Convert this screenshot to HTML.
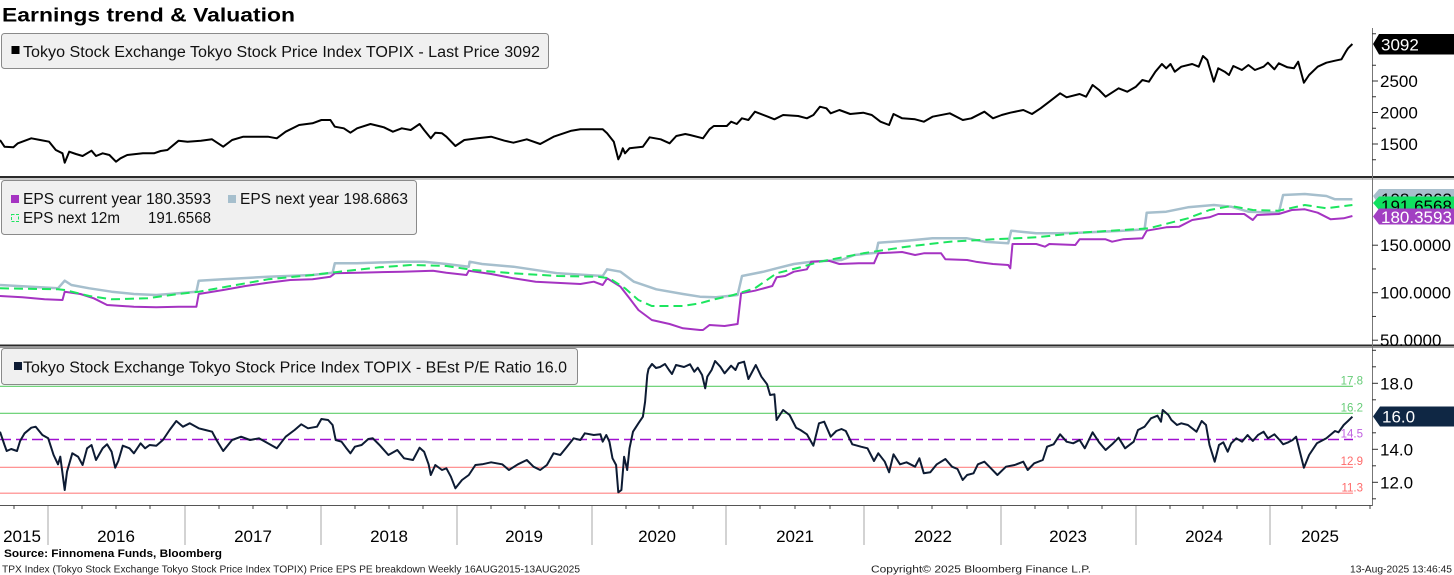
<!DOCTYPE html>
<html><head><meta charset="utf-8"><style>html,body{margin:0;padding:0;background:#fff;}svg{display:block}</style></head>
<body>
<svg width="1454" height="575" viewBox="0 0 1454 575" xmlns="http://www.w3.org/2000/svg" font-family="'Liberation Sans', 'DejaVu Sans', sans-serif">
<rect width="1454" height="575" fill="#fff"/>
<!-- title -->
<text x="2" y="21.5" font-size="19" font-weight="bold" fill="#000" textLength="293" lengthAdjust="spacingAndGlyphs">Earnings trend &amp; Valuation</text>

<!-- panel separators -->
<rect x="0" y="176" width="1454" height="2" fill="#2a2a2a"/>
<rect x="0" y="178.5" width="1454" height="1" fill="#9a9a9a"/>
<rect x="0" y="344.5" width="1454" height="2" fill="#2a2a2a"/>
<rect x="0" y="347" width="1454" height="1" fill="#9a9a9a"/>

<!-- right axis line -->
<line x1="1372.5" y1="28" x2="1372.5" y2="506" stroke="#777" stroke-width="1"/>
<g stroke="#333" stroke-width="1">
<!-- panel1 ticks -->
<line x1="1372" y1="144" x2="1378" y2="144"/><line x1="1372" y1="112.5" x2="1378" y2="112.5"/><line x1="1372" y1="81" x2="1378" y2="81"/>
<line x1="1372" y1="159.75" x2="1376" y2="159.75"/><line x1="1372" y1="128.25" x2="1376" y2="128.25"/><line x1="1372" y1="96.75" x2="1376" y2="96.75"/><line x1="1372" y1="65.25" x2="1376" y2="65.25"/><line x1="1372" y1="33.75" x2="1376" y2="33.75"/>
<!-- panel2 ticks -->
<line x1="1372" y1="245.2" x2="1378" y2="245.2"/><line x1="1372" y1="292.7" x2="1378" y2="292.7"/><line x1="1372" y1="340.2" x2="1378" y2="340.2"/>
<line x1="1372" y1="268.95" x2="1376" y2="268.95"/><line x1="1372" y1="316.45" x2="1376" y2="316.45"/>
<!-- panel3 ticks -->
<line x1="1372" y1="383.3" x2="1378" y2="383.3"/><line x1="1372" y1="449.3" x2="1378" y2="449.3"/><line x1="1372" y1="482.3" x2="1378" y2="482.3"/>
<line x1="1372" y1="350.3" x2="1376" y2="350.3"/><line x1="1372" y1="366.8" x2="1376" y2="366.8"/><line x1="1372" y1="399.8" x2="1376" y2="399.8"/><line x1="1372" y1="432.8" x2="1376" y2="432.8"/><line x1="1372" y1="465.8" x2="1376" y2="465.8"/><line x1="1372" y1="498.8" x2="1376" y2="498.8"/>
</g>

<!-- right axis labels -->
<g font-size="17" fill="#000">
<text x="1380" y="150">1500</text>
<text x="1380" y="118.5">2000</text>
<text x="1380" y="87">2500</text>
<text x="1380" y="251.2">150.0000</text>
<text x="1380" y="298.7">100.0000</text>
<text x="1380" y="346">50.0000</text>
<text x="1380" y="389.3">18.0</text>
<text x="1380" y="455.3">14.0</text>
<text x="1380" y="488.3">12.0</text>
</g>

<!-- panel 1 price line -->
<polyline fill="none" stroke="#000" stroke-width="2" stroke-linejoin="round" points="0,140 4.5,146.7 13.4,147.3 17.9,143.3 31.3,138.3 40.2,140 49.1,141.7 55.8,150 62.5,153.3 64.7,162.7 69.2,151.7 75.9,154 82.6,156 91.5,150.7 96,156 102.7,153.3 109.4,155 116,161.7 120.5,158.3 127.2,155 133.9,154.3 142.9,153.3 154,153.3 160.7,151 167.4,150 178.6,140.7 187.5,141.7 200.9,140.7 212,139.3 223.2,146.7 232.1,140 243.3,136.7 267.9,136.7 276.8,138.3 285.7,131.7 299.1,125 312.5,123.3 321.4,120 330.4,120 334.8,126.7 343.8,128.3 350.4,132.7 357.1,128.3 370.5,124 383.9,127.3 392.9,131.7 401.8,128.3 410.7,130 419.6,124 424.1,130 430.8,138.3 435.3,132.7 442,133.3 446.4,136.7 455.4,146 464.3,140 477.7,138.3 491.1,136.7 504.5,140.7 513.4,142.7 526.8,139.3 540.2,144 553.6,136.7 571.4,130.7 580.4,129.3 602.7,129.3 607.1,133.3 613.8,141.7 618.3,159.3 620.5,155 622.8,148.3 625,153.3 629.5,148.3 642.9,146.7 649.6,137.3 660.7,139.3 669.6,143.3 676.3,136 685.3,134 690,135 703,138.3 709.5,129.3 713.8,126 726.8,126 731.1,121.7 736.8,124 741.9,118.3 748.4,120 754.9,111.7 767.9,116.7 774.4,119.3 783.1,115 798.2,116 806.9,118.3 813.4,115 819.9,106.7 826.4,108.3 830.7,113.3 839.4,110 850.2,114 863.2,112.7 871.8,115 880.5,121.7 889.1,125 893.5,114 902.2,118.3 915.1,119.3 923.8,121.7 932.5,116.7 949.8,113.3 962.8,120 971.4,118.3 984.4,111.7 993,118.3 1001.7,115 1010.3,112.7 1023.3,110 1032,114 1040.6,108.3 1049.3,101.7 1060.1,93.3 1066.6,97.3 1079.6,94 1086.1,96.7 1092.6,85 1099.1,90 1105.6,96.7 1118.6,88.3 1127.2,91.7 1135.9,86.7 1142.4,80 1148.9,81.7 1155.4,71.7 1161.9,64 1166.2,68.3 1170.5,64 1174.8,71.7 1181.3,66.7 1192.2,64 1198.7,66.7 1203,56 1207.3,60 1213.8,81.7 1218.2,68.3 1224.7,71.7 1229,75 1233.3,66 1241.9,70 1248.4,65 1254.9,70 1263.6,66.7 1267.9,62.7 1274.4,69.3 1278.8,63.3 1287.4,67.3 1293.9,68.3 1298.2,61.7 1303.9,82.7 1309.1,75 1317.7,66.7 1326.4,62.7 1335,60.7 1341.5,59.3 1345.8,51.7 1348,48.3 1352.4,44"/>

<!-- panel 2 EPS lines -->
<polyline fill="none" stroke="#a6bfcd" stroke-width="2.5" stroke-linejoin="round" points="0,285 58,288.3 64.7,280.7 71.4,285 89.3,288.3 111.6,291.7 133.9,294 156.3,295 178.6,293.3 196.4,291.7 198.7,280.7 223.2,279.3 267.9,276.7 312.5,275 332.6,272.7 334.8,263.3 357.1,263.3 401.8,261.7 424.1,261.7 446.4,264 468.8,266.7 469.6,261.7 482.1,264 513.4,266.7 558,273.3 602.7,276 607.1,269.3 620.5,271.7 633.9,281.7 656.3,289.3 683,294 700,296.7 716,297.3 737.6,295 742,276 763.6,271.7 776.6,268.3 793.9,264 811.2,261.7 841.5,260 854.5,255 876.1,252.7 878.3,242.7 906.5,240.7 932.4,238.3 967.1,238.3 984.4,241.7 1008.2,243.3 1011.2,230.7 1036.3,233.3 1058,233.3 1079.6,232.7 1122.9,230.7 1144.6,229.3 1146.7,212.7 1166.2,211.7 1187.9,207.3 1213.8,205 1231.2,206.7 1248.4,211.7 1278.8,212.7 1283.1,195 1304.8,194 1326.4,196 1335,199.3 1352.4,199.3"/>
<polyline fill="none" stroke="#a533c2" stroke-width="2" stroke-linejoin="round" points="0,296 22.3,297.3 44.6,299.3 62.5,300 64.7,291.7 80.4,294 93.8,298.3 107.1,305 133.9,306.7 156.3,307.3 178.6,306.7 196.4,306.7 198.7,294 223.2,290 245.5,286 267.9,282.7 290.2,280 312.5,279.3 330.4,276.7 334.8,273.3 357.1,272.7 401.8,271.7 433,270.7 446.4,272.7 466.5,275 468.8,270.7 491.1,274 513.4,278.3 535.7,281.7 580.4,284 593.8,281.7 602.7,285 607.1,278.3 620.5,286.7 629.5,298.3 638.4,310 651.8,320 669.6,324 683,328.3 700,330 703,330 709.5,325 724.6,326 737.6,324 741.1,293.3 754.9,290.7 772.3,286 776.6,277.3 785.2,276 793.9,271.7 806.9,269.3 811.2,261.7 828.5,260.7 839.4,264 858.8,263.3 874,263.3 878.3,253.3 902.1,252 915.1,255 923.8,253.3 941.1,253.3 945.4,259.3 967.1,260 975.7,261.7 993,264 1008.2,265 1010.3,268.3 1012.5,244 1036.3,244 1045,246.7 1049.3,244 1075.3,245 1079.6,239.3 1105.6,239.3 1112.1,241.7 1122.9,239.3 1142.4,238.3 1146.7,230.7 1166.2,227.3 1179.2,226.7 1192.2,220 1209.5,217.3 1218.2,214 1244.2,214 1252.8,220 1257.1,215 1278.8,214 1291.8,210 1304.8,209.3 1317.7,212.7 1330.7,219.3 1343.7,218.3 1352.4,216"/>
<polyline fill="none" stroke="#1de55f" stroke-width="2" stroke-dasharray="9,5" stroke-linejoin="round" points="0,288.3 58,289.3 64.7,290 89.3,296 111.6,299.3 147.3,298.3 178.6,294 198.7,291.7 223.2,287.3 267.9,279.3 312.5,275 339.3,271.7 379.5,267.3 410.7,265 446.4,266 473.2,270 513.4,273.3 558,276 598.2,276.7 609.4,278.3 625,288.3 638.4,300 651.8,306 683,306 700,303.3 711.6,300 733.3,295 754.9,288.3 776.6,273.3 802.6,266.7 819.9,261.7 863.2,253.3 906.5,246.7 949.8,241.7 993,239.3 1036.3,237.3 1079.6,232.7 1122.9,230 1148.9,228.3 1187.9,218.3 1209.5,210 1231.2,206 1252.8,210 1278.8,210.7 1304.8,205 1326.4,208.3 1352.4,205"/>

<!-- panel 3 reference lines -->
<line x1="0" y1="386.3" x2="1353" y2="386.3" stroke="#5fce6a" stroke-width="1.2"/>
<line x1="0" y1="413.3" x2="1353" y2="413.3" stroke="#5fce6a" stroke-width="1.2"/>
<line x1="0" y1="439.5" x2="1353" y2="439.5" stroke="#a010d0" stroke-width="1.5" stroke-dasharray="11,5"/>
<line x1="0" y1="467.3" x2="1353" y2="467.3" stroke="#ff8484" stroke-width="1.2"/>
<line x1="0" y1="493.2" x2="1353" y2="493.2" stroke="#ff8484" stroke-width="1.2"/>
<g font-size="11.5" text-anchor="end">
<text x="1363" y="384.5" fill="#66cc77">17.8</text>
<text x="1363" y="411.5" fill="#66cc77">16.2</text>
<text x="1363" y="437.5" fill="#c060e0">14.5</text>
<text x="1363" y="465" fill="#ff6a6a">12.9</text>
<text x="1363" y="491.5" fill="#ff6a6a">11.3</text>
</g>

<!-- panel 3 PE line -->
<polyline fill="none" stroke="#0d1b33" stroke-width="2" stroke-linejoin="round" points="0,431.7 4.5,445 6.7,451 11.2,449 17,451 20.1,441 24.6,433.3 31.3,427.7 35.7,426.7 42.4,435 48.2,438.3 53.6,455 58,464.3 60.3,456.7 64.7,490 67,471.7 72.3,453.3 78.1,456.7 82.6,465 87.1,448.3 91.5,445 96,460 102.7,448.3 107.1,444.3 111.6,451.7 115.2,467.7 118.3,461 122.8,445.7 129.5,448.3 133.9,453.3 140.6,443.3 145.1,448.3 149.6,445 156.3,445.7 162.9,440 169.6,430 176.3,421 183,426.7 189.7,423.3 198.7,428.3 205.4,430 212.1,431.7 216.5,440 223.2,451 232.1,440 241.1,436.7 250,440 258.9,438.3 267.9,443.3 276.8,448.3 285.7,436.7 294.6,430 301.3,424.3 308,428.3 317,426.7 321.4,419 328.1,420 332.6,425 335.7,440 341.5,441.7 346,447.7 350.4,453.3 354.9,446.7 361.6,445 368.3,439 372.8,438.3 379.5,445 388.4,455 397.3,450 404,458.3 413,460 419.6,447.7 424.1,451.7 428.6,464.3 430.8,475 435.3,465 442,470 446.4,468.3 450.9,476.7 455.4,488.3 462,480 468.8,475 475.4,465 482.1,464.3 491.1,462.3 502.2,464.3 508.9,470 517.9,464.3 526.8,460 533.5,466.7 540.2,470 546.9,465 553.6,453.3 560.3,455 567,446.7 573.7,438.3 580.4,440 584.8,433.3 593.8,435 600.4,434.3 602.7,441.7 606.3,435 609.4,441.7 612.5,458.3 616.1,465 618.3,492.3 621.4,490 624.1,456.7 627.2,470 629.5,448.3 633,431.7 638.4,423.3 642.9,416.7 645.1,401.7 647.3,375 648.5,369 652,364 656,368 660,367 665,364 669,370 672,374 676,365 684,367 690,364.3 694.3,371.7 697.8,367.7 702.1,375 705.2,388.3 707.3,376.7 711.6,370 715.1,361 720.3,366.7 724.6,373.3 731.1,365.7 735.5,370 738.5,363.3 744.1,361.7 748.4,379 755.8,365 761.4,376.7 767.1,384.3 770.1,395 774.4,394.3 776.6,420 783.1,410 789.6,415 796.1,427.7 800.4,430 806.9,434.3 813.4,445.7 819,423.3 824.2,421.7 830.7,436.7 836.3,431 841.5,429 845.8,431 852.3,444.3 860.9,446.7 867.5,448.3 874,461 878.3,453.3 884.8,461.7 889.1,472.3 893.5,454.3 900,464.3 906.5,462.3 915.1,466.7 919.4,458.3 923.8,473.3 930.3,472.3 936.8,464.3 945.4,459 952,466.7 957.5,469 962.7,480 967.1,475 973.5,473.3 977.9,464.3 984.4,461.7 990.9,468.3 997.4,475 1006,466.7 1014.7,465 1023.3,461.7 1027.7,470 1034.2,463.3 1042.8,460 1047.1,446.7 1053.6,444.3 1060.1,434.3 1066.6,441.7 1073.2,443.3 1079.6,440 1084.8,448.3 1092.6,432.3 1099.1,442.3 1105.6,450 1112.1,444.3 1118.6,437.7 1125.1,448.3 1133.7,441.7 1138,430 1144.6,426.7 1151,418.3 1157.5,415.7 1161,421.7 1162.7,410 1168.4,415 1171.4,420 1177,425 1181.3,423.3 1187.9,425 1196.5,431.7 1201.7,421 1206,425 1209.5,445 1214.7,461.7 1219,445 1223.3,442.3 1227.7,451.7 1231.2,443.3 1236.3,438.3 1242,441.7 1247.6,435 1252.8,441 1258,435 1263.6,431.7 1267.9,438.3 1274.4,434.3 1279.6,440 1283.1,444.3 1288.3,442.3 1292.6,440 1296.1,436.7 1303.9,467.7 1309.1,455 1316.9,443.3 1326.4,438.3 1335,431 1338.5,432.3 1343.7,425 1348,421 1352.4,416.7"/>

<!-- legends -->
<rect x="1.5" y="33.5" width="547" height="35" rx="3" fill="#f0f0f0" stroke="#8a8a8a" stroke-width="1"/>
<rect x="11.5" y="46" width="8" height="8" fill="#000"/>
<text x="23" y="57" font-size="15.5" fill="#111" textLength="517" lengthAdjust="spacingAndGlyphs">Tokyo Stock Exchange Tokyo Stock Price Index TOPIX - Last Price 3092</text>

<rect x="1.5" y="180.5" width="415" height="54" rx="3" fill="#f0f0f0" stroke="#8a8a8a" stroke-width="1"/>
<rect x="11" y="195" width="8" height="8" fill="#a533c2"/>
<text x="23" y="204" font-size="15.5" fill="#111" textLength="188" lengthAdjust="spacingAndGlyphs">EPS current year 180.3593</text>
<rect x="228" y="195" width="8" height="8" fill="#a6bfcd"/>
<text x="240" y="204" font-size="15.5" fill="#111" textLength="168" lengthAdjust="spacingAndGlyphs">EPS next year 198.6863</text>
<rect x="11.5" y="214.5" width="7" height="7" fill="none" stroke="#1de55f" stroke-width="1" stroke-dasharray="3,1.5"/>
<text x="23" y="223" font-size="15.5" fill="#111" textLength="97" lengthAdjust="spacingAndGlyphs">EPS next 12m</text>
<text x="148" y="223" font-size="15.5" fill="#111" textLength="63" lengthAdjust="spacingAndGlyphs">191.6568</text>

<rect x="1.5" y="348.5" width="576" height="36" rx="3" fill="#f0f0f0" stroke="#8a8a8a" stroke-width="1"/>
<rect x="14" y="362" width="8" height="8" fill="#0d1b33"/>
<text x="23" y="372.5" font-size="15.5" fill="#111" textLength="544" lengthAdjust="spacingAndGlyphs">Tokyo Stock Exchange Tokyo Stock Price Index TOPIX - BEst P/E Ratio 16.0</text>

<!-- value flags -->
<polygon points="1373,44 1379,34 1454,34 1454,54.5 1379,54.5" fill="#000"/>
<text x="1381" y="50.5" font-size="17" fill="#fff">3092</text>

<polygon points="1373,196 1379,189 1454,189 1454,205 1379,205" fill="#a8bfcc"/>
<text x="1381" y="205" font-size="17" fill="#000">198.6863</text>
<polygon points="1373,203 1379,196.5 1454,196.5 1454,210 1379,210" fill="#10e060"/>
<text x="1381" y="212" font-size="17" fill="#000">191.6568</text>
<polygon points="1373,216.5 1379,208.5 1454,208.5 1454,224.5 1379,224.5" fill="#a13fc2"/>
<text x="1381" y="223" font-size="17" fill="#fff">180.3593</text>

<polygon points="1373,416.5 1380,406.5 1454,406.5 1454,426.5 1380,426.5" fill="#0f2744"/>
<text x="1382" y="422.5" font-size="17" fill="#fff">16.0</text>

<!-- x axis -->
<line x1="0" y1="505.5" x2="1372" y2="505.5" stroke="#555" stroke-width="1"/>
<g stroke="#c4c4c4" stroke-width="1.5">
<line x1="48" y1="506" x2="48" y2="545"/><line x1="185" y1="506" x2="185" y2="545"/><line x1="321" y1="506" x2="321" y2="545"/><line x1="457" y1="506" x2="457" y2="545"/><line x1="592" y1="506" x2="592" y2="545"/><line x1="726" y1="506" x2="726" y2="545"/><line x1="864" y1="506" x2="864" y2="545"/><line x1="1001" y1="506" x2="1001" y2="545"/><line x1="1136" y1="506" x2="1136" y2="545"/><line x1="1270" y1="506" x2="1270" y2="545"/>
</g>
<g stroke="#444" stroke-width="1">
<line x1="14" y1="505" x2="14" y2="509"/>
<line x1="82" y1="505" x2="82" y2="509"/><line x1="116" y1="505" x2="116" y2="509"/><line x1="150" y1="505" x2="150" y2="509"/>
<line x1="219" y1="505" x2="219" y2="509"/><line x1="253" y1="505" x2="253" y2="509"/><line x1="287" y1="505" x2="287" y2="509"/>
<line x1="355" y1="505" x2="355" y2="509"/><line x1="389" y1="505" x2="389" y2="509"/><line x1="423" y1="505" x2="423" y2="509"/>
<line x1="491" y1="505" x2="491" y2="509"/><line x1="525" y1="505" x2="525" y2="509"/><line x1="559" y1="505" x2="559" y2="509"/>
<line x1="626" y1="505" x2="626" y2="509"/><line x1="659" y1="505" x2="659" y2="509"/><line x1="693" y1="505" x2="693" y2="509"/>
<line x1="760" y1="505" x2="760" y2="509"/><line x1="795" y1="505" x2="795" y2="509"/><line x1="830" y1="505" x2="830" y2="509"/>
<line x1="898" y1="505" x2="898" y2="509"/><line x1="932" y1="505" x2="932" y2="509"/><line x1="967" y1="505" x2="967" y2="509"/>
<line x1="1035" y1="505" x2="1035" y2="509"/><line x1="1068" y1="505" x2="1068" y2="509"/><line x1="1102" y1="505" x2="1102" y2="509"/>
<line x1="1170" y1="505" x2="1170" y2="509"/><line x1="1203" y1="505" x2="1203" y2="509"/><line x1="1237" y1="505" x2="1237" y2="509"/>
<line x1="1302" y1="505" x2="1302" y2="509"/><line x1="1336" y1="505" x2="1336" y2="509"/><line x1="1370" y1="505" x2="1370" y2="509"/>
</g>
<g font-size="17" fill="#000" text-anchor="middle">
<text x="22" y="542">2015</text>
<text x="116" y="542">2016</text>
<text x="253" y="542">2017</text>
<text x="389" y="542">2018</text>
<text x="524" y="542">2019</text>
<text x="657" y="542">2020</text>
<text x="795" y="542">2021</text>
<text x="933" y="542">2022</text>
<text x="1068" y="542">2023</text>
<text x="1204" y="542">2024</text>
<text x="1320" y="542">2025</text>
</g>

<!-- footer -->
<text x="4" y="557" font-size="11" font-weight="bold" fill="#000" textLength="218" lengthAdjust="spacingAndGlyphs">Source: Finnomena Funds, Bloomberg</text>
<text x="2" y="572.5" font-size="10" fill="#222" textLength="578" lengthAdjust="spacingAndGlyphs">TPX Index (Tokyo Stock Exchange Tokyo Stock Price Index TOPIX) Price EPS PE breakdown  Weekly 16AUG2015-13AUG2025</text>
<text x="871" y="572.5" font-size="10" fill="#222" textLength="220" lengthAdjust="spacingAndGlyphs">Copyright© 2025 Bloomberg Finance L.P.</text>
<text x="1350" y="572.5" font-size="10" fill="#222" textLength="102" lengthAdjust="spacingAndGlyphs">13-Aug-2025 13:46:45</text>
</svg>
</body></html>
